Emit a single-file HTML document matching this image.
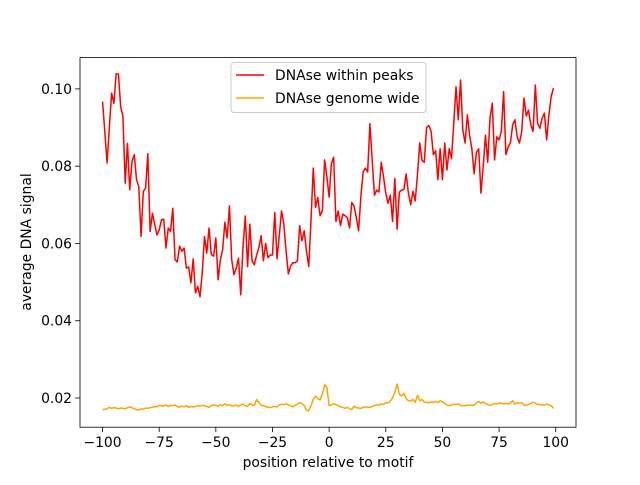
<!DOCTYPE html>
<html><head><meta charset="utf-8"><style>
body{margin:0;background:#fff;}
svg text{font-family:"DejaVu Sans","Liberation Sans",sans-serif;font-size:13.9px;fill:#000;}
</style></head><body>
<svg id="chart" width="640" height="480" xmlns="http://www.w3.org/2000/svg">
<rect width="640" height="480" fill="#fff"/>
<g id="plot"></g>
</svg>
<script>
const positions = [];
for (let p = -100; p <= 99; p++) positions.push(p);
const peaksSignal = [.0967,.089,.0808,.090,.0989,.0963,.1039,.1039,.0954,.0928,.0756,
.0859,.0739,.0812,.083,.0765,.0747,.0618,.0735,.0743,.0832,
.0631,.0678,.0650,.0622,.0635,.0661,.0663,.0588,.064,.0631,
.0691,.0558,.0552,.0593,.058,.0588,.0536,.0539,.0498,.056,
.0472,.0489,.0462,.0524,.0618,.0575,.064,.0571,.0567,.0614,
.0506,.0558,.0584,.0655,.0614,.0697,.0558,.0519,.0536,.0562,
.0467,.0593,.0671,.054,.065,.0554,
.0545,.057,.059,.062,
.0555,.060,.0563,.057,.057,.068,.056,.062,.0684,.065,
.058,.0521,.0542,.055,.055,.0555,.0646,.0607,.0633,.058,
.054,.066,.0795,.0693,.0719,.0672,.0684,.0816,.0773,.072,
.0807,.0823,.0657,.0684,.0646,.0676,.0672,.0667,.064,.0706,
.0697,.0667,.0633,.072,.0785,.0795,.0785,.091,.0816,.0725,
.0738,.0733,.081,.0773,.073,.0704,.0725,.0657,.0768,.0637,
.0733,
.0738,.074,.078,.073,.070,.0735,.071,.078,.086,
.0815,.081,.090,.0905,.089,.083,.084,.0765,.0845,.0765,
.086,.079,.0845,.082,.091,.1005,.092,.1023,.0894,.086,
.0933,.088,.0845,.078,.0836,.0845,.073,.080,.088,.081,
.0924,.0963,.0816,.0876,.0868,.089,.0993,.083,.085,.086,
.0907,.092,.0876,.086,.089,.0976,.093,.0945,.0907,.089,
.101,.0911,.0898,.0924,.0937,.0868,.0933,.098,.1002];
const genomeSignal = [.0170,.0171,.0172,.0176,.0173,.0175,.0174,.0172,.0174,.0173,.0172,
.0175,.0177,.0175,.0172,.0170,.0169,.0172,.0171,.0174,.0173,
.0175,.0176,.0178,.0177,.0181,.0180,.0179,.0182,.0178,.0181,
.0180,.0182,.0178,.0176,.0179,.0177,.0180,.0176,.0178,.0177,
.0178,.0180,.0179,.0181,.0180,.0178,.0176,.0180,.0182,.0181,
.0178,.0183,.0180,.0185,.0181,.0183,.0179,.0180,.0182,.0178,
.0182,.0184,.0180,.0178,.0186,.0182,.0181,.0196,.0188,.0181,
.0180,.0178,.0176,.0175,.0177,.0178,.0177,.0182,.0184,.0183,
.0185,.0182,.0180,.0177,.0181,.0184,.0188,.0186,.0180,.0168,
.0167,.0180,.0197,.0205,.0198,.0195,.0210,.0234,.0228,.0180,
.0182,.0185,.0183,.0180,.0177,.0176,.0173,.0176,.0172,.0170,
.0179,.0175,.0174,.0173,.0176,.0177,.0176,.0176,.0178,.0180,
.0183,.0181,.0185,.0183,.0188,.0187,.0192,.0200,.0215,.0236,
.0210,.0205,.0212,.0198,.0193,.0192,.0196,.0189,.0207,.0193,
.0196,.0189,.0189,.0187,.0190,.0188,.0191,.0188,.0193,.0190,
.0186,.0182,.0180,.0182,.0184,.0183,.0185,.0181,.0180,.0180,
.0182,.0181,.0182,.0181,.0187,.0191,.0186,.0190,.0186,.0183,
.0181,.0183,.0186,.0184,.0187,.0186,.0185,.0186,.0185,.0187,
.0193,.0184,.0188,.0187,.0188,.0182,.0181,.0183,.0186,.0189,
.0186,.0183,.0183,.0182,.0182,.0184,.0182,.0180,.0173];
const xTicks = [-100,-75,-50,-25,0,25,50,75,100];
const yTicks = [0.02,0.04,0.06,0.08,0.10];
const yTickLabels = ["0.02","0.04","0.06","0.08","0.10"];

const L=80,R=576,T=57.6,B=427.2;
const xMin=-109.95,xMax=108.95,yMin=0.01244,yMax=0.1081;
const sx=v=>L+(v-xMin)/(xMax-xMin)*(R-L);
const sy=v=>B-(v-yMin)/(yMax-yMin)*(B-T);
const NS="http://www.w3.org/2000/svg";
const g=document.getElementById('plot');
function mk(tag,attrs,parent){const e=document.createElementNS(NS,tag);for(const k in attrs)e.setAttribute(k,attrs[k]);(parent||g).appendChild(e);return e;}

function line(vals,color,name){
  const d=vals.map((v,i)=>(i?'L':'M')+sx(positions[i]).toFixed(2)+','+sy(v).toFixed(2)).join('');
  const p=mk('path',{d:d,fill:'none',stroke:color,'stroke-width':1.5,'stroke-linejoin':'round'});
  
  
}
line(peaksSignal,'#ff0000','series-dnase-within-peaks');
line(genomeSignal,'#ffa500','series-dnase-genome-wide');

const frame=mk('rect',{x:L,y:T,width:R-L,height:B-T,fill:'none',stroke:'#000','stroke-width':0.8});



xTicks.forEach(t=>{
  const x=sx(t);
  const tk=mk('line',{x1:x,x2:x,y1:B,y2:B+4.9,stroke:'#000','stroke-width':0.8});
  
  
  const tx=mk('text',{x:x,y:B+20,'text-anchor':'middle'});
  tx.textContent=(t<0?'\u2212'+(-t):t);
  
  
});
yTicks.forEach((t,i)=>{
  const y=sy(t);
  const tk=mk('line',{x1:L-4.9,x2:L,y1:y,y2:y,stroke:'#000','stroke-width':0.8});
  
  
  const tx=mk('text',{x:L-8,y:y+5,'text-anchor':'end'});
  tx.textContent=yTickLabels[i];
  
  
});
const xt=mk('text',{x:(L+R)/2,y:467,'text-anchor':'middle'});
xt.textContent='position relative to motif';


const yt=mk('text',{x:0,y:0,'text-anchor':'middle',transform:'translate(31,242) rotate(-90)'});
yt.textContent='average DNA signal';



const lg=mk('g',{});


mk('rect',{x:231,y:62.5,width:195,height:50,rx:3,fill:'#fff','fill-opacity':0.8,stroke:'#cccccc','stroke-width':1},lg);
mk('line',{x1:236,x2:264,y1:75,y2:75,stroke:'#ff0000','stroke-width':1.5},lg);
mk('line',{x1:236,x2:264,y1:98,y2:98,stroke:'#ffa500','stroke-width':1.5},lg);
const l1=mk('text',{x:275,y:80},lg);l1.textContent='DNAse within peaks';


const l2=mk('text',{x:275,y:103},lg);l2.textContent='DNAse genome wide';


</script>
</body></html>
